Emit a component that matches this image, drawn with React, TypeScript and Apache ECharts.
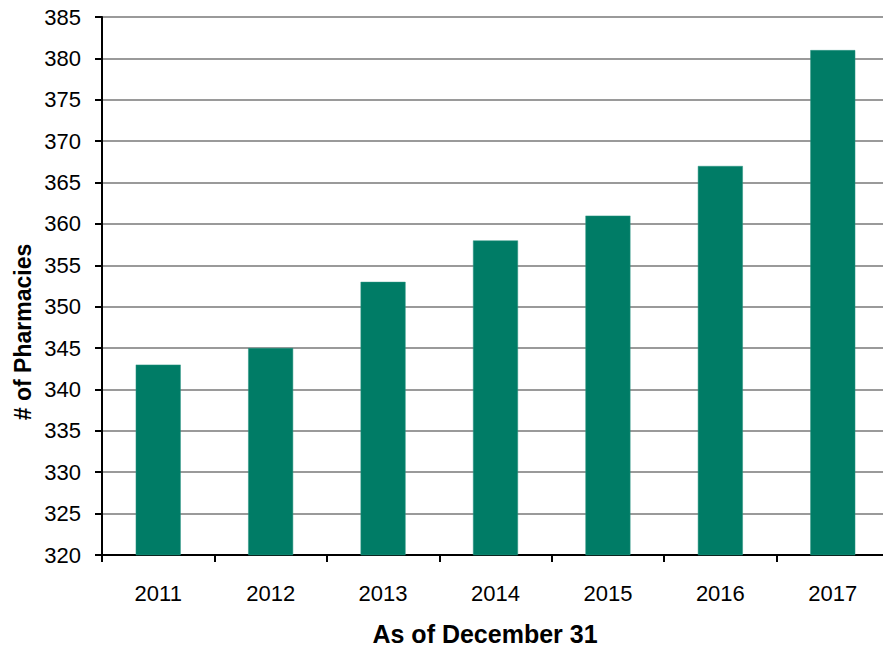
import React, { useEffect, useRef } from "react";
import * as echarts from "echarts";

const categories = ["2011", "2012", "2013", "2014", "2015", "2016", "2017"];
const pharmacies = [343, 345, 353, 358, 361, 367, 381];
const yMin = 320;
const yMax = 385;
const yStep = 5;
const xTitle = "As of December 31";
const yTitle = "# of Pharmacies";

const FONT = "'Liberation Sans Narrow', 'Arial Narrow', 'Liberation Sans', Arial, sans-serif";

export default function App() {
  const ref = useRef<HTMLDivElement>(null);
  useEffect(() => {
    if (!ref.current) return;
    const chart = echarts.init(ref.current, null, { renderer: "svg" });
    chart.setOption({
      animation: false,
      backgroundColor: "#ffffff",
      grid: { left: 102, top: 17, right: 0, bottom: 99, containLabel: false },
      xAxis: {
        type: "category",
        data: categories,
        axisLine: { lineStyle: { color: "#000", width: 2 } },
        axisTick: { show: true, length: 7, lineStyle: { color: "#000", width: 2 } },
        axisLabel: { fontFamily: FONT, fontSize: 22, color: "#000", margin: 27 },
        splitLine: { show: false },
      },
      yAxis: {
        type: "value",
        min: yMin,
        max: yMax,
        interval: yStep,
        axisLine: { show: true, lineStyle: { color: "#000", width: 2 } },
        axisTick: { show: true, length: 7, lineStyle: { color: "#000", width: 2 } },
        axisLabel: { fontFamily: FONT, fontSize: 22, color: "#000", margin: 21 },
        splitLine: { show: true, lineStyle: { color: "#9a9a9a", width: 2 } },
      },
      graphic: [
        {
          type: "text",
          x: 485,
          y: 634,
          style: {
            text: xTitle,
            fontFamily: FONT,
            fontSize: 25,
            fontWeight: "bold",
            fill: "#000",
            align: "center",
            verticalAlign: "middle",
          },
        },
        {
          type: "text",
          x: 23,
          y: 332,
          rotation: Math.PI / 2,
          style: {
            text: yTitle,
            fontFamily: FONT,
            fontSize: 23,
            fontWeight: "bold",
            fill: "#000",
            align: "center",
            verticalAlign: "middle",
          },
        },
      ],
      series: [
        {
          type: "bar",
          data: pharmacies,
          barWidth: "40%",
          itemStyle: { color: "#007C66", borderColor: "#2A9582", borderWidth: 0.5 },
        },
      ],
    });
    return () => chart.dispose();
  }, []);
  return (
    <div
      style={{
        position: "fixed",
        left: 0,
        top: 0,
        width: 883,
        height: 654,
        overflow: "hidden",
        background: "#fff",
      }}
    >
      <div ref={ref} style={{ width: 889, height: 654 }} />
    </div>
  );
}
